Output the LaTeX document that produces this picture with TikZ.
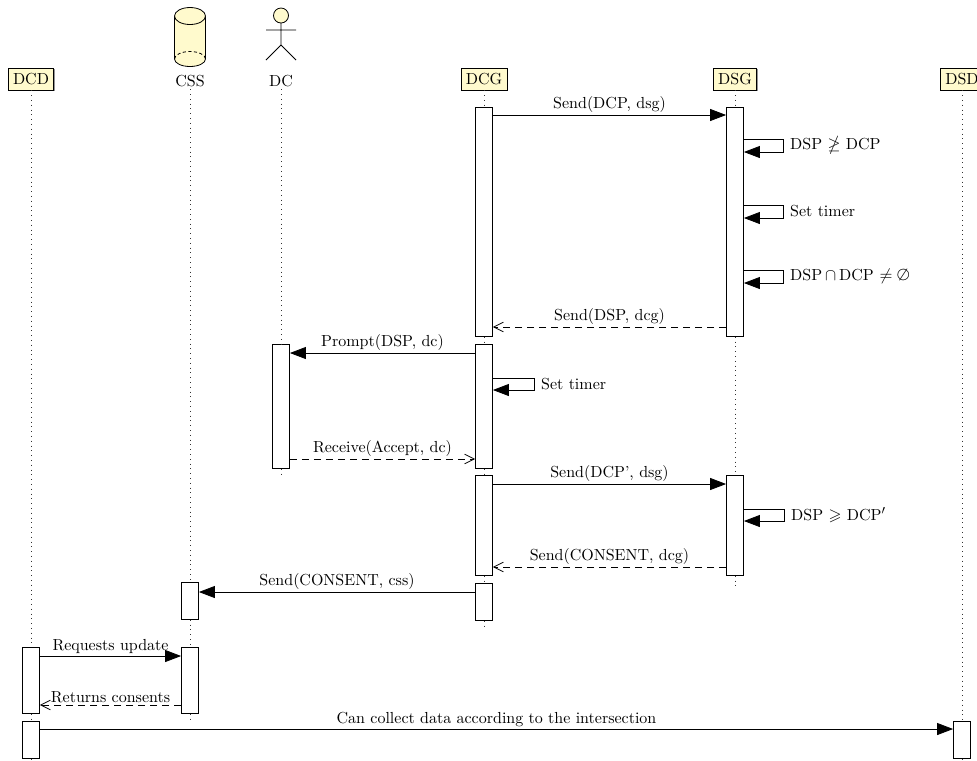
\documentclass[tikz,border=0pt]{standalone}
\usepackage{mathpazo}
\usepackage{amssymb}
\usetikzlibrary{arrows.meta,shadows}
\definecolor{hdrfill}{RGB}{255,250,205}
\begin{document}
\begin{tikzpicture}[x=0.625pt,y=-0.625pt,
  hdr/.style={draw, fill=hdrfill, inner xsep=3pt, inner ysep=0pt, minimum height=13.75pt,
    drop shadow={shadow xshift=0.6pt, shadow yshift=-0.6pt, fill=black!60, opacity=.7}},
  plain/.style={inner sep=1pt},
  life/.style={dash pattern=on 0.5pt off 2.5pt, line width=0.5pt, black!80},
  act/.style={draw, fill=white, line width=0.5pt, inner sep=0pt, anchor=north,
    minimum width=10.625pt, minimum height=#1*0.625pt},
  msg/.style={line width=0.5pt, -{Triangle[length=10pt,width=7.5pt]}},
  rmsg/.style={line width=0.5pt, dash pattern=on 4.5pt off 3pt, -{Straight Barb[length=6pt,width=6pt]}},
  lbl/.style={above, inner sep=1.2pt},
  slbl/.style={right, inner sep=4pt}
]
\useasboundingbox (0,0) rectangle (977,760);

% headers
\node[hdr] (dcd) at (31,79) {DCD};
\node[plain] (css) at (190,81.5) {CSS};
\node[plain] (dc) at (281,81.5) {DC};
\node[hdr] (dcg) at (484,79) {DCG};
\node[hdr] (dsg) at (735,79) {DSG};
\node[hdr] (dsd) at (962,79) {DSD};

% database cylinder
\fill[hdrfill] (174.5,16) -- (174.5,59) arc[start angle=180, end angle=0, x radius=15.5, y radius=7.5] -- (205.5,16) -- cycle;
\draw[line width=0.5pt] (174.5,16) -- (174.5,59) arc[start angle=180, end angle=0, x radius=15.5, y radius=7.5] -- (205.5,16);
\draw[line width=0.5pt, dash pattern=on 2pt off 1.5pt] (174.5,59) arc[start angle=180, end angle=360, x radius=15.5, y radius=7.5];
\draw[line width=0.5pt, fill=hdrfill] (190,16) ellipse[x radius=15.5, y radius=8.5];

% actor
\draw[line width=0.5pt, fill=hdrfill] (281,15.5) circle[radius=7.5];
\draw[line width=0.5pt] (281,23) -- (281,45) (266,30) -- (296,30) (266,60) -- (281,45) -- (296,60);

% activations
\node[act=66] (d1) at (31,647) {};
\node[act=37] (d2) at (31,721) {};
\node[act=37] (s1) at (190,582) {};
\node[act=66] (s2) at (190,647) {};
\node[act=124] (c1) at (281,344) {};
\node[act=229] (g1) at (484,107) {};
\node[act=124] (g2) at (484,344) {};
\node[act=100] (g3) at (484,475) {};
\node[act=37] (g4) at (484,583) {};
\node[act=229] (b1) at (735,107) {};
\node[act=100] (b2) at (735,475) {};
\node[act=37] (e1) at (962,721) {};

% lifelines
\draw[life] (dcd.south) -- (d1.north);
\draw[life] (d1.south) -- (d2.north);
\draw[life] (d2.south) -- ++(0,9);
\draw[life] (css.south) -- (s1.north);
\draw[life] (s1.south) -- (s2.north);
\draw[life] (s2.south) -- ++(0,9);
\draw[life] (dc.south) -- (c1.north);
\draw[life] (c1.south) -- ++(0,9);
\draw[life] (dcg.south) -- (g1.north);
\draw[life] (g1.south) -- (g2.north);
\draw[life] (g2.south) -- (g3.north);
\draw[life] (g3.south) -- (g4.north);
\draw[life] (g4.south) -- ++(0,9);
\draw[life] (dsg.south) -- (b1.north);
\draw[life] (b1.south) -- (b2.north);
\draw[life] (b2.south) -- ++(0,10);
\draw[life] (dsd.south) -- (e1.north);
\draw[life] (e1.south) -- ++(0,9);

% messages
\draw[msg] (g1.east |- 0,115) -- node[lbl] {Send(DCP, dsg)} (b1.west |- 0,115);
\draw[msg] (b1.east |- 0,139) -- ++(39.5,0) -- node[slbl] {DSP $\ngeq$ DCP} ++(0,13) -- (b1.east |- 0,152);
\draw[msg] (b1.east |- 0,205) -- ++(39.5,0) -- node[slbl] {Set timer} ++(0,13) -- (b1.east |- 0,218);
\draw[msg] (b1.east |- 0,270) -- ++(39.5,0) -- node[slbl] {DSP$\,\cap\,$DCP $\neq\emptyset$} ++(0,13) -- (b1.east |- 0,283);
\draw[rmsg] (b1.west |- 0,327) -- node[lbl] {Send(DSP, dcg)} (g1.east |- 0,327);
\draw[msg] (g2.west |- 0,353) -- node[lbl] {Prompt(DSP, dc)} (c1.east |- 0,353);
\draw[msg] (g2.east |- 0,378) -- ++(41.5,0) -- node[slbl] {Set timer} ++(0,12) -- (g2.east |- 0,390);
\draw[rmsg] (c1.east |- 0,459) -- node[lbl] {Receive(Accept, dc)} (g2.west |- 0,459);
\draw[msg] (g3.east |- 0,484) -- node[lbl] {Send(DCP', dsg)} (b2.west |- 0,484);
\draw[msg] (b2.east |- 0,509) -- ++(40.5,0) -- node[slbl] {DSP $\geqslant$ DCP$'$} ++(0,12) -- (b2.east |- 0,521);
\draw[rmsg] (b2.west |- 0,567) -- node[lbl] {Send(CONSENT, dcg)} (g3.east |- 0,567);
\draw[msg] (g4.west |- 0,592) -- node[lbl] {Send(CONSENT, css)} (s1.east |- 0,592);
\draw[msg] (d1.east |- 0,656) -- node[lbl] {Requests update} (s2.west |- 0,656);
\draw[rmsg] (s2.west |- 0,705) -- node[lbl] {Returns consents} (d1.east |- 0,705);
\draw[msg] (d2.east |- 0,729) -- node[lbl] {Can collect data according to the intersection} (e1.west |- 0,729);
\end{tikzpicture}
\end{document}
